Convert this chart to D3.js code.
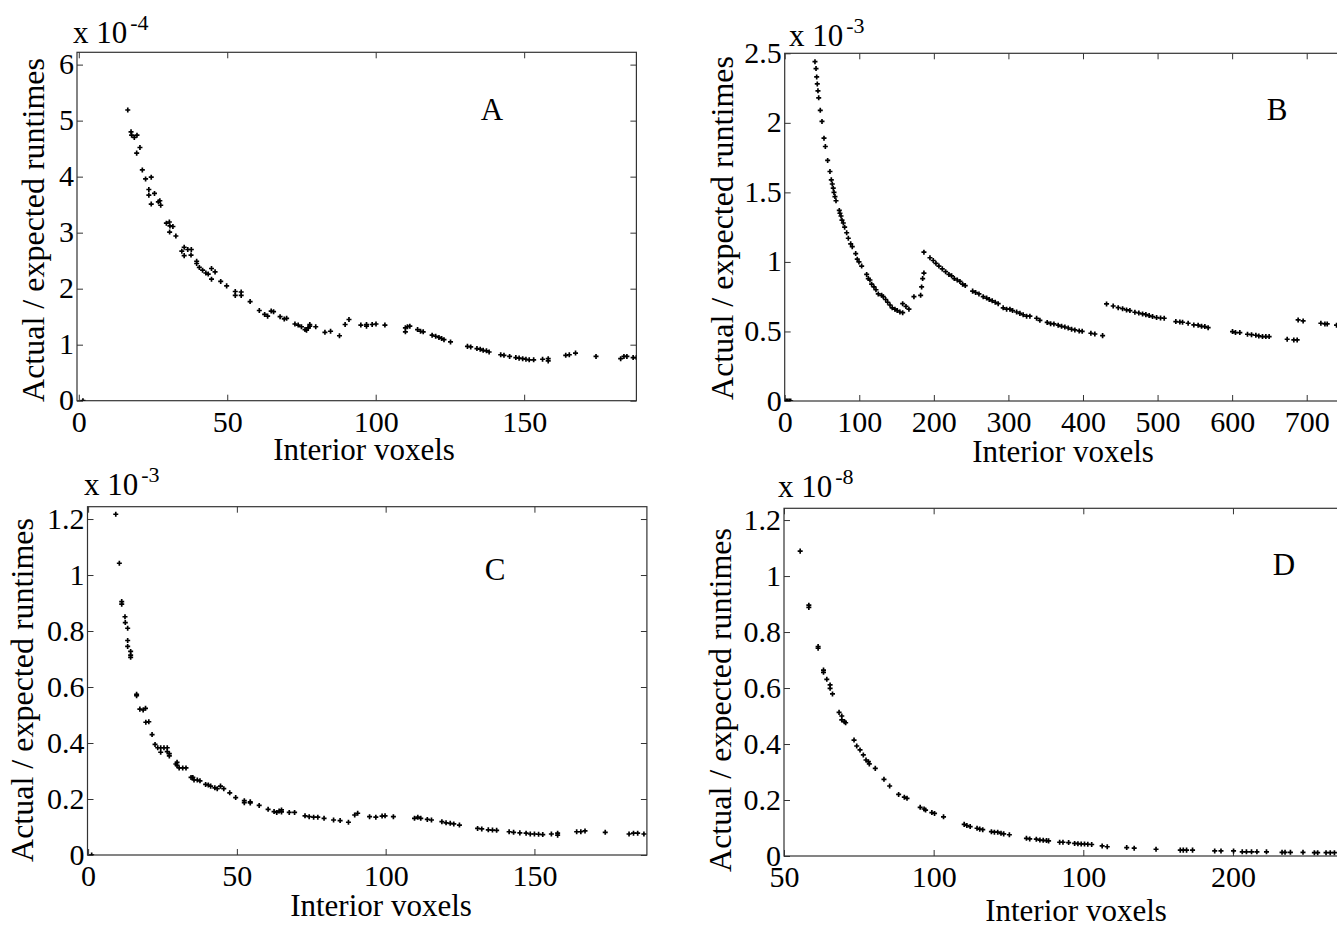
<!DOCTYPE html>
<html>
<head>
<meta charset="utf-8">
<script src="https://cdn.jsdelivr.net/npm/d3@7"></script>
<style>
body { margin: 0; background: #fff; }
text { font-family: "Liberation Serif", "Times New Roman", serif; fill: #000; }
</style>
</head>
<body>
<svg id="chart" width="1337" height="927"></svg>
<script>
// values; y in units of the "x 10^n" factor of each panel
var panelA = [[1.4,0],[16.5,5.19],[17.6,4.80],[17.8,4.74],[18.7,4.70],[19.6,4.74],[20.6,4.52],[19.5,4.42],[21.4,4.12],[22.5,3.96],[24.4,3.99],[23.6,3.77],[23.6,3.67],[25.5,3.70],[24.4,3.51],[26.8,3.55],[27.3,3.57],[27.6,3.49],[29.5,3.17],[30.5,3.19],[30.7,3.12],[31.7,3.11],[30.6,3.01],[32.7,2.94],[34.7,2.67],[35.5,2.74],[36.7,2.70],[37.9,2.70],[35.5,2.59],[37.8,2.60],[39.7,2.49],[39.7,2.45],[40.6,2.38],[41.7,2.33],[42.8,2.28],[43.6,2.26],[44.7,2.36],[45.9,2.30],[44.7,2.17],[47.8,2.13],[49.8,2.05],[52.7,1.95],[52.7,1.88],[54.7,1.94],[54.7,1.88],[57.7,1.77],[60.8,1.61],[62.6,1.54],[63.6,1.51],[64.8,1.60],[65.6,1.59],[67.8,1.50],[69.2,1.46],[70.0,1.47],[72.8,1.37],[73.9,1.35],[75.0,1.32],[76.2,1.27],[76.7,1.26],[77.3,1.30],[77.8,1.36],[77.8,1.33],[79.8,1.32],[82.9,1.22],[84.8,1.24],[87.8,1.16],[89.7,1.36],[91.0,1.45],[95.0,1.35],[96.9,1.36],[96.9,1.33],[98.8,1.36],[100.1,1.37],[103.1,1.35],[110.0,1.30],[110.0,1.23],[110.7,1.32],[111.5,1.33],[114.1,1.27],[115.1,1.24],[116.0,1.23],[119.0,1.17],[120.2,1.15],[121.3,1.13],[122.2,1.11],[123.0,1.09],[125.2,1.05],[130.9,0.97],[132.0,0.96],[134.1,0.93],[135.2,0.92],[136.2,0.90],[137.3,0.89],[138.2,0.87],[142.1,0.82],[143.2,0.81],[145.1,0.79],[147.2,0.77],[148.3,0.76],[149.5,0.75],[150.6,0.74],[151.7,0.73],[153.2,0.73],[156.2,0.74],[158.1,0.75],[158.1,0.71],[164.0,0.81],[165.2,0.82],[167.3,0.85],[174.2,0.79],[182.5,0.75],[183.6,0.79],[184.6,0.79],[186.7,0.77],[187.8,0.77]];

var panelB = [[2,0],[4,0],[6,0],[8,0],[40.6,2.44],[42.0,2.39],[42.9,2.33],[43.7,2.28],[44.6,2.23],[45.6,2.18],[47.7,2.09],[50.0,2.01],[52.7,1.89],[54.5,1.83],[57.6,1.73],[60.7,1.65],[62.5,1.59],[63.8,1.56],[65.1,1.53],[66.1,1.50],[67.4,1.47],[68.8,1.44],[73.2,1.37],[74.1,1.35],[75.5,1.33],[76.8,1.30],[78.6,1.28],[80.4,1.25],[83.1,1.21],[85.3,1.17],[88.5,1.13],[90.6,1.11],[95.2,1.06],[97.3,1.02],[99.6,1.00],[103.2,0.97],[109.9,0.91],[112.1,0.88],[114.3,0.87],[116.6,0.84],[119.7,0.82],[122.4,0.80],[125.5,0.77],[130.0,0.76],[132.2,0.75],[135.4,0.73],[138.1,0.71],[141.2,0.69],[144.2,0.67],[147.8,0.66],[150.9,0.65],[154.5,0.64],[158.2,0.635],[158.2,0.70],[162.6,0.68],[166.6,0.66],[173.3,0.75],[182.3,0.76],[183.6,0.82],[185.0,0.88],[186.7,0.92],[186.7,1.07],[194.8,1.03],[199.2,1.01],[202.8,0.99],[206.8,0.97],[211.3,0.95],[215.8,0.93],[220.2,0.91],[223.8,0.90],[227.4,0.88],[231.4,0.87],[235.0,0.86],[238.6,0.84],[242.1,0.83],[252.0,0.79],[256.0,0.78],[260.5,0.77],[266.2,0.75],[270.8,0.74],[274.3,0.73],[278.3,0.72],[282.3,0.71],[286.3,0.70],[293.0,0.67],[297.6,0.66],[302.0,0.66],[305.6,0.65],[311.0,0.64],[315.4,0.63],[319.8,0.62],[324.4,0.61],[328.8,0.61],[337.8,0.595],[342.2,0.58],[352.0,0.565],[356.6,0.556],[361.0,0.554],[366.7,0.545],[371.3,0.537],[375.7,0.532],[380.2,0.525],[384.7,0.516],[389.1,0.511],[394.9,0.504],[398.9,0.501],[410.6,0.487],[415.9,0.482],[426.3,0.470],[431.6,0.698],[440.5,0.683],[447.2,0.671],[453.1,0.664],[458.4,0.655],[462.9,0.650],[469.6,0.638],[474.9,0.633],[479.9,0.626],[484.3,0.621],[488.7,0.614],[493.3,0.607],[498.7,0.600],[504.0,0.597],[508.9,0.595],[524.5,0.571],[529.9,0.568],[533.5,0.566],[541.0,0.559],[548.6,0.547],[554.4,0.545],[559.0,0.537],[563.4,0.535],[567.8,0.527],[600.5,0.499],[604.5,0.492],[610.3,0.492],[620.6,0.480],[626.0,0.477],[631.8,0.473],[635.8,0.468],[640.7,0.463],[645.2,0.463],[649.6,0.463],[673.8,0.444],[682.7,0.439],[687.2,0.439],[688.5,0.583],[695.2,0.576],[719.0,0.559],[724.4,0.554],[727.5,0.554],[740.0,0.545]];

var panelC = [[1.2,0],[9.3,1.217],[10.5,1.042],[11.3,0.905],[11.3,0.896],[12.4,0.851],[12.5,0.830],[13.3,0.810],[13.3,0.766],[13.3,0.745],[14.3,0.727],[14.3,0.714],[14.3,0.706],[16.3,0.574],[16.3,0.569],[17.4,0.521],[18.5,0.518],[19.3,0.524],[19.4,0.474],[20.4,0.476],[21.5,0.430],[22.5,0.395],[23.4,0.383],[24.4,0.383],[24.4,0.367],[25.5,0.383],[26.6,0.383],[26.6,0.369],[27.3,0.362],[27.3,0.354],[29.5,0.325],[29.9,0.331],[29.9,0.320],[30.6,0.311],[31.8,0.311],[32.9,0.311],[34.6,0.277],[35.2,0.277],[35.6,0.268],[36.7,0.268],[37.6,0.265],[39.5,0.252],[40.4,0.250],[41.2,0.246],[42.6,0.240],[43.4,0.237],[44.5,0.246],[45.6,0.237],[47.6,0.222],[49.6,0.205],[52.5,0.194],[52.5,0.187],[54.5,0.190],[54.5,0.186],[57.5,0.177],[60.5,0.163],[62.5,0.155],[63.4,0.152],[64.2,0.157],[65.0,0.161],[65.0,0.154],[67.6,0.152],[69.4,0.152],[72.9,0.140],[74.3,0.137],[75.8,0.135],[77.2,0.135],[79.3,0.131],[82.5,0.125],[84.7,0.123],[87.5,0.117],[89.6,0.143],[90.6,0.149],[94.6,0.137],[96.7,0.135],[98.8,0.139],[99.8,0.140],[102.6,0.137],[109.7,0.131],[110.8,0.135],[111.8,0.131],[114.0,0.127],[115.4,0.125],[118.9,0.119],[120.3,0.115],[121.7,0.113],[122.9,0.111],[124.8,0.107],[130.9,0.095],[132.3,0.093],[134.5,0.090],[135.9,0.089],[137.3,0.088],[141.5,0.083],[143.0,0.081],[145.1,0.079],[147.2,0.078],[148.6,0.075],[150.0,0.075],[151.4,0.074],[152.8,0.073],[155.7,0.075],[157.8,0.078],[157.8,0.071],[164.2,0.083],[165.6,0.083],[167.0,0.086],[173.8,0.081],[181.8,0.075],[183.3,0.078],[184.7,0.078],[186.8,0.075]];

var panelD = [[55.4,1.089],[58.3,0.896],[58.3,0.888],[61.4,0.748],[61.4,0.742],[63.2,0.664],[63.2,0.656],[64.3,0.631],[65.4,0.611],[65.4,0.599],[66.2,0.579],[68.4,0.513],[69.3,0.500],[69.3,0.486],[70.2,0.480],[70.6,0.476],[73.4,0.414],[74.3,0.393],[75.4,0.379],[76.5,0.361],[77.4,0.343],[78.2,0.337],[78.5,0.329],[80.5,0.313],[83.4,0.274],[85.3,0.250],[88.3,0.220],[90.2,0.210],[91.1,0.206],[95.5,0.174],[96.8,0.168],[97.3,0.164],[99.4,0.155],[100.3,0.152],[103.3,0.140],[110.2,0.113],[111.1,0.109],[112.2,0.105],[114.5,0.099],[115.4,0.096],[116.4,0.094],[119.3,0.087],[120.3,0.085],[121.4,0.085],[122.5,0.081],[123.4,0.079],[125.3,0.076],[131.0,0.063],[132.1,0.061],[134.3,0.060],[135.5,0.057],[136.6,0.056],[137.7,0.055],[138.4,0.054],[142.1,0.049],[143.2,0.049],[145.1,0.048],[147.1,0.045],[148.2,0.044],[149.3,0.043],[150.4,0.043],[151.5,0.042],[152.8,0.041],[156.3,0.036],[158.0,0.033],[164.5,0.030],[167.0,0.028],[174.3,0.024],[182.4,0.021],[183.4,0.021],[184.5,0.021],[186.5,0.021],[193.9,0.018],[196.0,0.018],[200.2,0.018],[203.1,0.015],[204.5,0.015],[206.2,0.015],[208.0,0.015],[211.2,0.015],[216.4,0.013],[217.4,0.013],[219.2,0.013],[223.4,0.013],[227.2,0.012],[228.3,0.012],[231.1,0.012],[232.5,0.012],[233.9,0.012]];

var ticksA = { x: [0, 50, 100, 150], y: [0, 1, 2, 3, 4, 5, 6] };
var ticksB = { x: [0, 100, 200, 300, 400, 500, 600, 700], y: [0, 0.5, 1, 1.5, 2, 2.5] };
var ticksC = { x: [0, 50, 100, 150], y: [0, 0.2, 0.4, 0.6, 0.8, 1, 1.2] };
var ticksD = { x: [50, 100, 150, 200], y: [0, 0.2, 0.4, 0.6, 0.8, 1, 1.2] };
var xLabelsD = ["50", "100", "100", "200"];

var letters = ["A", "B", "C", "D"];
var exponents = ["-4", "-3", "-3", "-8"];

var svg = d3.select("#chart");

var panels = [
  { data: panelA, ticks: ticksA, letter: letters[0], exp: exponents[0],
    box: [77, 636.4, 52.3, 400.7], xd: [-0.6, 187.8], yd: [0, 6.22],
    letterPos: [492, 120], expPos: [73, 43], ylab: [44, 230], xlab: [364, 460] },
  { data: panelB, ticks: ticksB, letter: letters[1], exp: exponents[1],
    box: [784.7, 1344, 53.3, 401], xd: [0, 750], yd: [0, 2.5],
    letterPos: [1277, 120], expPos: [789, 46], ylab: [733, 228], xlab: [1063, 462] },
  { data: panelC, ticks: ticksC, letter: letters[2], exp: exponents[2],
    box: [87.5, 646.9, 506.7, 855], xd: [-0.2, 187.8], yd: [0, 1.244],
    letterPos: [495, 580], expPos: [84, 495], ylab: [33, 690], xlab: [381, 916] },
  { data: panelD, ticks: ticksD, letter: letters[3], exp: exponents[3], xfmt: xLabelsD,
    box: [784, 1344, 508.3, 856], xd: [50, 237.1], yd: [0, 1.242],
    letterPos: [1284, 575], expPos: [778, 497], ylab: [731, 700], xlab: [1076, 921] }
];

var marker = d3.symbol().type(d3.symbolCross).size(14);

panels.forEach(function(p, i) {
  var l = p.box[0], r = p.box[1], t = p.box[2], b = p.box[3];
  var x = d3.scaleLinear().domain(p.xd).range([l, r]);
  var y = d3.scaleLinear().domain(p.yd).range([b, t]);

  svg.append("clipPath").attr("id", "clip" + i)
    .append("rect").attr("x", l).attr("y", t).attr("width", r - l).attr("height", b - t);

  var fmtX = p.xfmt ? function(d, k) { return p.xfmt[k]; } : d3.format("");
  var fmtY = d3.format("");

  // bottom + left with labels, top + right ticks only
  var gx = svg.append("g").attr("transform", "translate(0," + b + ")")
    .call(d3.axisBottom(x).tickValues(p.ticks.x).tickFormat(fmtX).tickSizeInner(-6).tickSizeOuter(0).tickPadding(10));
  var gy = svg.append("g").attr("transform", "translate(" + l + ",0)")
    .call(d3.axisLeft(y).tickValues(p.ticks.y).tickFormat(fmtY).tickSizeInner(-6).tickSizeOuter(0).tickPadding(3));
  svg.append("g").attr("transform", "translate(0," + t + ")")
    .call(d3.axisTop(x).tickValues(p.ticks.x).tickFormat("").tickSizeInner(-6).tickSizeOuter(0));
  svg.append("g").attr("transform", "translate(" + r + ",0)")
    .call(d3.axisRight(y).tickValues(p.ticks.y).tickFormat("").tickSizeInner(-6).tickSizeOuter(0));

  svg.selectAll(".domain").remove();
  svg.selectAll(".tick line").attr("stroke", "#333");
  [gx, gy].forEach(function(g) {
    g.selectAll("text").attr("font-size", 30).attr("font-family", "Liberation Serif");
  });
  gy.selectAll("text").attr("dy", "0.3em");

  svg.append("rect").attr("x", l).attr("y", t).attr("width", r - l).attr("height", b - t)
    .attr("fill", "none").attr("stroke", "#333").attr("stroke-width", 1.2);

  svg.append("g").attr("clip-path", "url(#clip" + i + ")")
    .selectAll("path").data(p.data).enter().append("path")
    .attr("d", marker)
    .attr("fill", "#000")
    .attr("transform", function(d) { return "translate(" + x(d[0]) + "," + y(d[1]) + ")"; });

  var ex = svg.append("text").attr("x", p.expPos[0]).attr("y", p.expPos[1]).attr("font-size", 31);
  ex.append("tspan").text("x 10");
  ex.append("tspan").attr("font-size", 22).attr("dx", 3).attr("dy", -13).text(p.exp);

  svg.append("text").attr("x", p.letterPos[0]).attr("y", p.letterPos[1])
    .attr("text-anchor", "middle").attr("font-size", 31).text(p.letter);

  svg.append("text").attr("x", p.xlab[0]).attr("y", p.xlab[1])
    .attr("text-anchor", "middle").attr("font-size", 31).text("Interior voxels");

  svg.append("text")
    .attr("transform", "translate(" + p.ylab[0] + "," + p.ylab[1] + ") rotate(-90)")
    .attr("text-anchor", "middle").attr("font-size", 32).text("Actual / expected runtimes");
});
</script>
</body>
</html>
